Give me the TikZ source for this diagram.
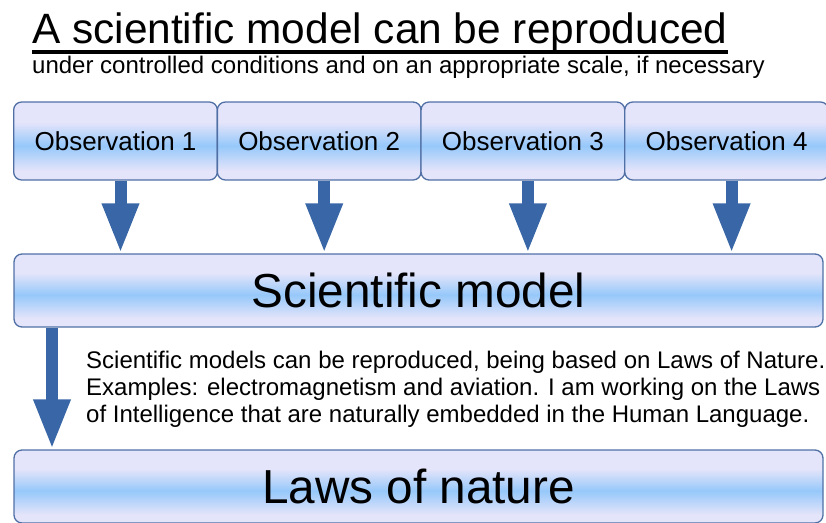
\documentclass[tikz,border=0pt]{standalone}
\usepackage{fontspec}
\setmainfont{Liberation Sans}
\usetikzlibrary{arrows.meta, positioning, calc}
\definecolor{boxlav}{RGB}{228,228,250}
\definecolor{boxsky}{RGB}{150,200,250}
\definecolor{boxline}{RGB}{80,112,165}
\definecolor{flowblue}{RGB}{56,102,166}
\pgfdeclareverticalshading{boxshade}{100bp}{color(0bp)=(boxlav); color(31bp)=(boxlav); color(47bp)=(boxsky); color(62bp)=(boxlav); color(100bp)=(boxlav)}

\begin{document}
\begin{tikzpicture}[
        x=1pt, y=-1pt,
        obs/.style={rectangle, draw=boxline, line width=1.3pt, shade, shading=boxshade, rounded corners=8pt, minimum width=203.7pt, minimum height=78pt, inner sep=0pt, font=\fontsize{26}{30}\selectfont},
        wide/.style={obs, minimum width=809pt, minimum height=73pt, font=\fontsize{47.7}{56}\selectfont},
        flow/.style={-{Triangle[length=50pt, width=34pt]}, line width=12pt, draw=flowblue},
        note/.style={align=left, inner sep=0pt, font=\fontsize{24}{27}\selectfont}
    ]
        \useasboundingbox (0,0) rectangle (826,522);
        \node[anchor=base west, inner sep=0pt, font=\fontsize{42.4}{50}\selectfont] (title) at (32,43.5) {A scientific model can be reproduced};
        \draw[line width=3.5pt] ([yshift=-8.5pt]title.base west) -- ([yshift=-8.5pt]title.base east);
        \node[anchor=base west, inner sep=0pt, font=\fontsize{24}{28}\selectfont] (sub) at (32,73) {under controlled conditions and on an appropriate scale, if necessary};
        \foreach \i in {1,...,4}
            \node[obs] (obs\i) at ({115.5+203.7*(\i-1)}, 141) {Observation \i};
        \node[wide] (model) at (418.5, 290.5) {Scientific model};
        \node[wide] (laws) at (418.5, 486.5) {Laws of nature};
        \coordinate (leftx) at (52, 0);
        \foreach \i in {1,...,4}
            \draw[flow] ([xshift=5pt]obs\i.south) -- ([xshift=5pt]obs\i.south |- model.north);
        \draw[flow] (model.south -| leftx) -- (laws.north -| leftx);
        \node[note, anchor=base west] (note) at (86,422) {Scientific models can be reproduced, being based on Laws of Nature.\\Examples: electromagnetism and aviation. I am working on the Laws\\of Intelligence that are naturally embedded in the Human Language.};
    \end{tikzpicture}
\end{document}
